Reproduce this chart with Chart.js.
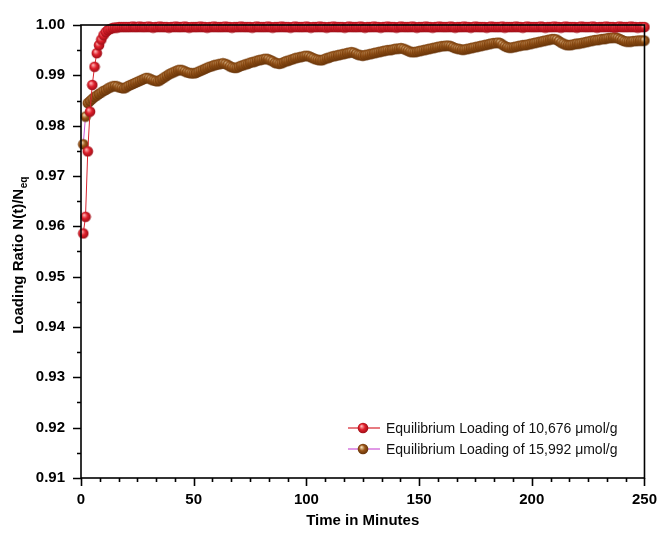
<!DOCTYPE html>
<html>
<head>
<meta charset="utf-8">
<script src="https://cdn.jsdelivr.net/npm/chart.js@4"></script>
<style>
  html, body { margin: 0; padding: 0; background: #fff; }
  #wrap { width: 670px; height: 534px; }
</style>
</head>
<body>
<div id="wrap"><canvas id="chart" width="670" height="534"></canvas></div>
<script>
// sampling times, one reading per minute
const minutes = Array.from({ length: 250 }, (_, i) => i + 1);

const loading10676 = [
  0.9586, 0.9619, 0.9749, 0.9828, 0.9881, 0.9917, 0.9944, 0.9960, 0.9971, 0.9980,
  0.9986, 0.9990, 0.9992, 0.9994, 0.9995, 0.9995, 0.9996, 0.9996, 0.9996, 0.9996,
  0.9996, 0.9996, 0.9997, 0.9996, 0.9996, 0.9997, 0.9996, 0.9996, 0.9996, 0.9997,
  0.9996, 0.9995, 0.9996, 0.9996, 0.9997, 0.9996, 0.9996, 0.9996, 0.9995, 0.9996,
  0.9996, 0.9997, 0.9996, 0.9996, 0.9996, 0.9997, 0.9996, 0.9995, 0.9996, 0.9996,
  0.9996, 0.9996, 0.9997, 0.9996, 0.9996, 0.9995, 0.9996, 0.9996, 0.9997, 0.9996,
  0.9996, 0.9996, 0.9996, 0.9997, 0.9996, 0.9996, 0.9995, 0.9996, 0.9996, 0.9996,
  0.9997, 0.9996, 0.9996, 0.9996, 0.9996, 0.9995, 0.9996, 0.9997, 0.9996, 0.9996,
  0.9996, 0.9996, 0.9997, 0.9996, 0.9995, 0.9996, 0.9996, 0.9996, 0.9997, 0.9996,
  0.9996, 0.9996, 0.9995, 0.9996, 0.9997, 0.9996, 0.9996, 0.9996, 0.9996, 0.9997,
  0.9996, 0.9995, 0.9996, 0.9996, 0.9996, 0.9997, 0.9996, 0.9996, 0.9995, 0.9996,
  0.9996, 0.9997, 0.9996, 0.9996, 0.9996, 0.9996, 0.9995, 0.9996, 0.9997, 0.9996,
  0.9996, 0.9996, 0.9996, 0.9997, 0.9996, 0.9995, 0.9996, 0.9996, 0.9996, 0.9997,
  0.9996, 0.9996, 0.9995, 0.9996, 0.9996, 0.9997, 0.9996, 0.9996, 0.9996, 0.9995,
  0.9996, 0.9997, 0.9996, 0.9996, 0.9996, 0.9996, 0.9997, 0.9996, 0.9995, 0.9996,
  0.9996, 0.9996, 0.9997, 0.9996, 0.9996, 0.9995, 0.9996, 0.9996, 0.9997, 0.9996,
  0.9996, 0.9996, 0.9996, 0.9997, 0.9996, 0.9995, 0.9996, 0.9996, 0.9996, 0.9997,
  0.9996, 0.9996, 0.9995, 0.9996, 0.9997, 0.9996, 0.9996, 0.9996, 0.9996, 0.9995,
  0.9996, 0.9997, 0.9996, 0.9996, 0.9996, 0.9996, 0.9997, 0.9995, 0.9996, 0.9996,
  0.9996, 0.9996, 0.9997, 0.9996, 0.9996, 0.9995, 0.9996, 0.9997, 0.9996, 0.9996,
  0.9996, 0.9996, 0.9996, 0.9997, 0.9996, 0.9995, 0.9996, 0.9996, 0.9996, 0.9997,
  0.9996, 0.9996, 0.9995, 0.9996, 0.9997, 0.9996, 0.9996, 0.9996, 0.9996, 0.9995,
  0.9996, 0.9997, 0.9996, 0.9996, 0.9996, 0.9996, 0.9997, 0.9996, 0.9995, 0.9996,
  0.9996, 0.9996, 0.9997, 0.9996, 0.9996, 0.9996, 0.9995, 0.9996, 0.9997, 0.9996,
  0.9996, 0.9996, 0.9996, 0.9997, 0.9996, 0.9996, 0.9995, 0.9996, 0.9996, 0.9996
];

const loading15992 = [
  0.9763, 0.9818, 0.9845, 0.9849, 0.9853, 0.9857, 0.9860, 0.9863, 0.9866, 0.9869,
  0.9871, 0.9874, 0.9876, 0.9878, 0.9879, 0.9878, 0.9876, 0.9875, 0.9874, 0.9876,
  0.9879, 0.9881, 0.9883, 0.9885, 0.9887, 0.9889, 0.9891, 0.9893, 0.9895, 0.9894,
  0.9892, 0.9890, 0.9889, 0.9888, 0.9890, 0.9893, 0.9896, 0.9899, 0.9902, 0.9904,
  0.9906, 0.9908, 0.9910, 0.9911, 0.9910, 0.9908, 0.9906, 0.9905, 0.9904, 0.9904,
  0.9905, 0.9907, 0.9909, 0.9911, 0.9913, 0.9915, 0.9917, 0.9918, 0.9920, 0.9921,
  0.9922, 0.9923, 0.9924, 0.9923, 0.9921, 0.9918, 0.9916, 0.9915, 0.9915, 0.9917,
  0.9919, 0.9920, 0.9922, 0.9923, 0.9925, 0.9926, 0.9927, 0.9929, 0.9930, 0.9931,
  0.9932, 0.9933, 0.9932, 0.9930, 0.9928, 0.9925, 0.9924, 0.9923, 0.9924, 0.9926,
  0.9928, 0.9929, 0.9931, 0.9932, 0.9934, 0.9935, 0.9936, 0.9937, 0.9938, 0.9939,
  0.9938, 0.9936, 0.9934, 0.9932, 0.9931, 0.9930, 0.9930, 0.9932, 0.9934, 0.9935,
  0.9937, 0.9938, 0.9939, 0.9940, 0.9941, 0.9942, 0.9943, 0.9944, 0.9945, 0.9946,
  0.9945, 0.9943, 0.9941, 0.9940, 0.9939, 0.9940, 0.9941, 0.9942, 0.9943, 0.9944,
  0.9945, 0.9946, 0.9947, 0.9948, 0.9949, 0.9950, 0.9950, 0.9951, 0.9952, 0.9953,
  0.9953, 0.9954, 0.9953, 0.9951, 0.9949, 0.9947, 0.9946, 0.9946, 0.9947, 0.9948,
  0.9949, 0.9950, 0.9951, 0.9952, 0.9953, 0.9954, 0.9955, 0.9956, 0.9957, 0.9958,
  0.9958, 0.9959, 0.9959, 0.9958, 0.9956, 0.9954, 0.9953, 0.9952, 0.9951, 0.9951,
  0.9952, 0.9953, 0.9954, 0.9955, 0.9956, 0.9957, 0.9958, 0.9959, 0.9960, 0.9961,
  0.9962, 0.9963, 0.9964, 0.9964, 0.9965, 0.9964, 0.9961, 0.9958, 0.9956, 0.9955,
  0.9955, 0.9956, 0.9957, 0.9958, 0.9959, 0.9960, 0.9960, 0.9961, 0.9962, 0.9963,
  0.9964, 0.9965, 0.9966, 0.9967, 0.9968, 0.9969, 0.9970, 0.9971, 0.9972, 0.9972,
  0.9971, 0.9968, 0.9965, 0.9963, 0.9961, 0.9960, 0.9960, 0.9961, 0.9962, 0.9963,
  0.9963, 0.9964, 0.9965, 0.9966, 0.9967, 0.9968, 0.9969, 0.9970, 0.9970, 0.9971,
  0.9972, 0.9972, 0.9973, 0.9974, 0.9974, 0.9975, 0.9975, 0.9974, 0.9972, 0.9970,
  0.9968, 0.9967, 0.9967, 0.9967, 0.9968, 0.9968, 0.9969, 0.9969, 0.9969, 0.9969
];

const seriesLabels = [
  'Equilibrium Loading of 10,676 \u03bcmol/g',
  'Equilibrium Loading of 15,992 \u03bcmol/g'
];

const xTicks = [0, 50, 100, 150, 200, 250];
const yTicks = [0.91, 0.92, 0.93, 0.94, 0.95, 0.96, 0.97, 0.98, 0.99, 1.00];

// shaded ball used as the point marker
function makeBall(light, base, dark) {
  const c = document.createElement('canvas');
  c.width = c.height = 12;
  const g = c.getContext('2d');
  const grad = g.createRadialGradient(4.4, 4.1, 0.3, 6, 6, 6);
  grad.addColorStop(0, light);
  grad.addColorStop(0.45, base);
  grad.addColorStop(1, dark);
  g.fillStyle = grad;
  g.beginPath();
  g.arc(6, 6, 5.3, 0, Math.PI * 2);
  g.fill();
  return c;
}

const redBall = makeBall('#ffb8b8', '#e0202c', '#8e0a12');
const brownBall = makeBall('#f6e0b8', '#9a5518', '#5a2c06');
const lineColors = ['#d8232e', '#cc55d6'];
const balls = [redBall, brownBall];

const frame = {
  id: 'frame',
  afterDatasetsDraw(chart) {
    const { ctx, chartArea: a, scales } = chart;
    ctx.save();
    ctx.strokeStyle = '#000';
    ctx.lineWidth = 1.6;
    ctx.strokeRect(a.left, a.top, a.right - a.left, a.bottom - a.top);

    // y ticks, one minor between majors
    ctx.beginPath();
    for (let k = 0; k <= 18; k++) {
      const v = 0.91 + k * 0.005;
      const y = Math.round(scales.y.getPixelForValue(v)) + 0.5;
      const len = k % 2 === 0 ? 8 : 4;
      ctx.moveTo(a.left, y);
      ctx.lineTo(a.left - len, y);
    }
    // x ticks, five minor between majors
    for (let k = 0; k <= 30; k++) {
      const v = k * 50 / 6;
      const x = Math.round(scales.x.getPixelForValue(v)) + 0.5;
      const len = k % 6 === 0 ? 8 : 4;
      ctx.moveTo(x, a.bottom);
      ctx.lineTo(x, a.bottom + len);
    }
    ctx.stroke();

    // axis titles
    ctx.fillStyle = '#000';
    ctx.font = 'bold 15px "Liberation Sans", Arial, sans-serif';
    ctx.textAlign = 'center';
    ctx.textBaseline = 'middle';
    ctx.fillText('Time in Minutes', (a.left + a.right) / 2, 521);

    ctx.translate(19, (a.top + a.bottom) / 2 + 4);
    ctx.rotate(-Math.PI / 2);
    const main = 'Loading Ratio N(t)/N';
    const w1 = ctx.measureText(main).width;
    ctx.font = 'bold 10px "Liberation Sans", Arial, sans-serif';
    const w2 = ctx.measureText('eq').width;
    const x0 = -(w1 + w2) / 2;
    ctx.font = 'bold 15px "Liberation Sans", Arial, sans-serif';
    ctx.textAlign = 'left';
    ctx.fillText(main, x0, 0);
    ctx.font = 'bold 10px "Liberation Sans", Arial, sans-serif';
    ctx.fillText('eq', x0 + w1 + 0.5, 5);
    ctx.restore();

    // legend
    ctx.save();
    ctx.font = '14px "Liberation Sans", Arial, sans-serif';
    ctx.textBaseline = 'middle';
    ctx.textAlign = 'left';
    chart.data.datasets.forEach((ds, i) => {
      const y = 428 + i * 21;
      ctx.strokeStyle = lineColors[i];
      ctx.lineWidth = 1.2;
      ctx.beginPath();
      ctx.moveTo(348, y);
      ctx.lineTo(380, y);
      ctx.stroke();
      ctx.drawImage(balls[i], 363 - 6, y - 6);
      ctx.fillStyle = '#111';
      ctx.fillText(ds.label, 386, y + 1);
    });
    ctx.restore();
  }
};

const tickFont = { family: '"Liberation Sans", Arial, sans-serif', size: 15, weight: 'bold' };

new Chart(document.getElementById('chart').getContext('2d'), {
  type: 'line',
  data: {
    datasets: [
      {
        label: seriesLabels[0],
        data: minutes.map((t, i) => ({ x: t, y: loading10676[i] })),
        borderColor: lineColors[0],
        borderWidth: 1,
        pointStyle: redBall,
        pointRadius: 6,
        clip: false
      },
      {
        label: seriesLabels[1],
        data: minutes.map((t, i) => ({ x: t, y: loading15992[i] })),
        borderColor: lineColors[1],
        borderWidth: 1,
        pointStyle: brownBall,
        pointRadius: 6,
        clip: false
      }
    ]
  },
  options: {
    responsive: false,
    animation: false,
    layout: { padding: { top: 17, right: 12, left: 0, bottom: 0 } },
    plugins: { legend: { display: false }, tooltip: { enabled: false } },
    scales: {
      x: {
        type: 'linear',
        min: 0,
        max: 250,
        afterBuildTicks: s => { s.ticks = xTicks.map(v => ({ value: v })); },
        afterFit: s => { s.height = 56; },
        ticks: { font: tickFont, color: '#000', padding: 13, maxRotation: 0 },
        grid: { display: false, drawTicks: false },
        border: { display: false }
      },
      y: {
        type: 'linear',
        min: 0.91,
        max: 1.0,
        afterBuildTicks: s => { s.ticks = yTicks.map(v => ({ value: v })); },
        afterFit: s => { s.width = 81; },
        ticks: { font: tickFont, color: '#000', padding: 16, callback: v => v.toFixed(2) },
        grid: { display: false, drawTicks: false },
        border: { display: false }
      }
    }
  },
  plugins: [frame]
});
</script>
</body>
</html>
